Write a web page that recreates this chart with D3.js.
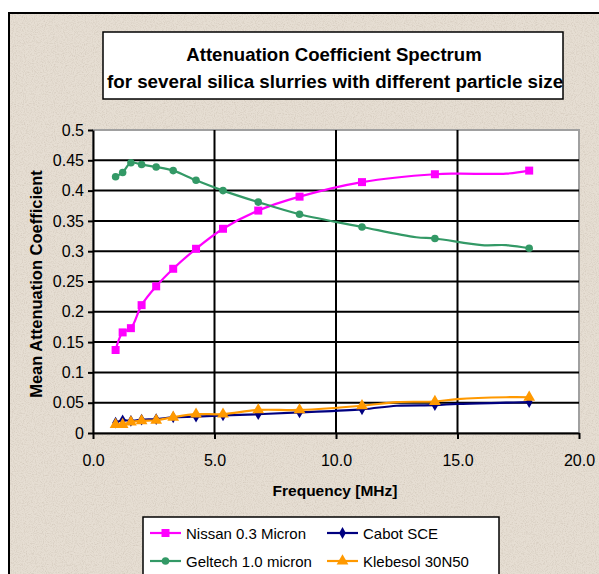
<!DOCTYPE html>
<html>
<head>
<meta charset="utf-8">
<script src="https://cdn.jsdelivr.net/npm/d3@7"></script>
<style>
  body { margin: 0; background: #fff; }
  svg { display: block; font-family: "Liberation Sans", Arial, sans-serif; }
</style>
</head>
<body>
<div id="chart-area"></div>
<script>
// frequencies (MHz) where the markers sit
var freqs = [0.93, 1.22, 1.56, 2.0, 2.6, 3.3, 4.24, 5.35, 6.8, 8.5, 11.07, 14.07, 17.95];

var nissan   = [0.137, 0.166, 0.173, 0.211, 0.242, 0.271, 0.304, 0.337, 0.367, 0.390, 0.414, 0.427, 0.433];
var geltech  = [0.423, 0.430, 0.446, 0.443, 0.439, 0.433, 0.417, 0.400, 0.381, 0.361, 0.340, 0.321, 0.305];
var cabot    = [0.017, 0.021, 0.020, 0.022, 0.023, 0.026, 0.027, 0.029, 0.031, 0.034, 0.039, 0.046, 0.051];
var klebesol = [0.014, 0.014, 0.018, 0.020, 0.021, 0.026, 0.031, 0.031, 0.038, 0.038, 0.045, 0.052, 0.059];

// extra line vertices without markers
var nissanExtraF = [15.0, 17.0],        nissanExtraV = [0.428, 0.428];
var geltechExtraF = [13.3, 16.0, 17.0], geltechExtraV = [0.323, 0.310, 0.310];
var cabotExtraF = [12.5, 15.0, 17.0],   cabotExtraV = [0.045, 0.048, 0.050];
var klebesolExtraF = [12.5, 15.0, 17.0], klebesolExtraV = [0.051, 0.056, 0.059];

var seriesNames = ["Nissan 0.3 Micron", "Cabot SCE", "Geltech 1.0 micron", "Klebesol 30N50"];

var xTicks = [0, 5, 10, 15, 20];
var yTicks = [0, 0.05, 0.1, 0.15, 0.2, 0.25, 0.3, 0.35, 0.4, 0.45, 0.5];

var W = 599, H = 574;
var plot = { left: 93, right: 579, top: 130, bottom: 433 };

var svg = d3.select("#chart-area").append("svg")
    .attr("width", W).attr("height", H);

// parchment texture
var defs = svg.append("defs");
var f = defs.append("filter").attr("id", "grain")
    .attr("x", 0).attr("y", 0).attr("width", "100%").attr("height", "100%");
f.append("feTurbulence").attr("type", "fractalNoise")
    .attr("baseFrequency", 0.9).attr("numOctaves", 2).attr("seed", 4);
f.append("feColorMatrix").attr("type", "matrix")
    .attr("values", "0 0 0 0 0.55  0 0 0 0 0.48  0 0 0 0 0.40  0 0 0 -2.2 1.25");
f.append("feComposite").attr("in2", "SourceGraphic").attr("operator", "in");

svg.append("rect")
    .attr("x", 9).attr("y", 13).attr("width", 640).attr("height", 640)
    .attr("fill", "#e6ded3");
svg.append("rect")
    .attr("x", 9).attr("y", 13).attr("width", 640).attr("height", 640)
    .attr("fill", "#e6ded3").attr("filter", "url(#grain)").attr("opacity", 0.5);
svg.append("rect")
    .attr("x", 9).attr("y", 13).attr("width", 640).attr("height", 640)
    .attr("fill", "none").attr("stroke", "#000").attr("stroke-width", 2);

// title box
svg.append("rect")
    .attr("x", 103).attr("y", 32).attr("width", 460).attr("height", 67)
    .attr("fill", "#fff").attr("stroke", "#000").attr("stroke-width", 1.5);
svg.append("text")
    .attr("x", 334).attr("y", 61)
    .attr("text-anchor", "middle").attr("font-size", "18.6px").attr("font-weight", "bold")
    .text("Attenuation Coefficient Spectrum");
svg.append("text")
    .attr("x", 335).attr("y", 88)
    .attr("text-anchor", "middle").attr("font-size", "18.8px").attr("font-weight", "bold")
    .text("for several silica slurries with different particle size");

// scales
var x = d3.scaleLinear().domain([0, 20]).range([plot.left, plot.right]);
var y = d3.scaleLinear().domain([0, 0.5]).range([plot.bottom, plot.top]);

// plot area
svg.append("rect")
    .attr("x", plot.left).attr("y", plot.top)
    .attr("width", plot.right - plot.left).attr("height", plot.bottom - plot.top)
    .attr("fill", "#fff").attr("stroke", "#a0a0a0").attr("stroke-width", 2);

// gridlines
svg.append("g").selectAll("line")
    .data(yTicks.filter(function (d) { return d > 0 && d < 0.5; }))
    .enter().append("line")
    .attr("x1", plot.left).attr("x2", plot.right)
    .attr("y1", function (d) { return y(d); }).attr("y2", function (d) { return y(d); })
    .attr("stroke", "#000").attr("stroke-width", 2);
svg.append("g").selectAll("line")
    .data(xTicks.filter(function (d) { return d > 0 && d < 20; }))
    .enter().append("line")
    .attr("y1", plot.top).attr("y2", plot.bottom)
    .attr("x1", function (d) { return x(d); }).attr("x2", function (d) { return x(d); })
    .attr("stroke", "#000").attr("stroke-width", 2);

// axes
var yAxis = svg.append("g")
    .attr("transform", "translate(" + plot.left + ",0)")
    .call(d3.axisLeft(y).tickValues(yTicks).tickSizeInner(5).tickSizeOuter(0).tickPadding(4)
        .tickFormat(function (d) { return String(+d.toFixed(2)); }));
yAxis.select(".domain").attr("stroke", "#000").attr("stroke-width", 2);
yAxis.selectAll(".tick line").attr("stroke-width", 2);
yAxis.selectAll("text").attr("font-size", "16px").attr("fill", "#000")
    .attr("font-family", "Liberation Sans, Arial, sans-serif");

var xAxis = svg.append("g")
    .attr("transform", "translate(0," + plot.bottom + ")")
    .call(d3.axisBottom(x).tickValues(xTicks).tickSizeInner(6).tickSizeOuter(0).tickPadding(16)
        .tickFormat(d3.format(".1f")));
xAxis.select(".domain").attr("stroke", "#000").attr("stroke-width", 2);
xAxis.selectAll(".tick line").attr("stroke-width", 2);
xAxis.selectAll("text").attr("font-size", "16px").attr("fill", "#000")
    .attr("font-family", "Liberation Sans, Arial, sans-serif");

// axis titles
svg.append("text")
    .attr("x", 335).attr("y", 496)
    .attr("text-anchor", "middle").attr("font-size", "15.5px").attr("font-weight", "bold")
    .text("Frequency [MHz]");
svg.append("text")
    .attr("transform", "translate(42,284) rotate(-90)")
    .attr("text-anchor", "middle").attr("font-size", "16.5px").attr("font-weight", "bold")
    .text("Mean Attenuation Coefficient");

// series
function build(vals, exF, exV) {
    var pts = freqs.map(function (fq, i) { return { f: fq, v: vals[i], m: true }; });
    exF.forEach(function (fq, i) { pts.push({ f: fq, v: exV[i], m: false }); });
    pts.sort(function (a, b) { return a.f - b.f; });
    return pts;
}

var series = [
    { name: seriesNames[0], color: "#ff00ff", sym: d3.symbolSquare, size: 64, pts: build(nissan, nissanExtraF, nissanExtraV) },
    { name: seriesNames[1], color: "#000080", sym: d3.symbolDiamond, size: 40, pts: build(cabot, cabotExtraF, cabotExtraV) },
    { name: seriesNames[2], color: "#339966", sym: d3.symbolCircle, size: 45, pts: build(geltech, geltechExtraF, geltechExtraV) },
    { name: seriesNames[3], color: "#ff9900", sym: d3.symbolTriangle, size: 60, pts: build(klebesol, klebesolExtraF, klebesolExtraV) }
];

var line = d3.line()
    .x(function (d) { return x(d.f); })
    .y(function (d) { return y(d.v); })
    .curve(d3.curveCatmullRom.alpha(0.5));

series.forEach(function (s) {
    svg.append("path")
        .attr("d", line(s.pts))
        .attr("fill", "none").attr("stroke", s.color).attr("stroke-width", 2.2);
    svg.append("g").selectAll("path")
        .data(s.pts.filter(function (d) { return d.m; }))
        .enter().append("path")
        .attr("d", d3.symbol().type(s.sym).size(s.size))
        .attr("transform", function (d) { return "translate(" + x(d.f) + "," + y(d.v) + ")"; })
        .attr("fill", s.color);
});

// legend
svg.append("rect")
    .attr("x", 143).attr("y", 517).attr("width", 356).attr("height", 80)
    .attr("fill", "#fff").attr("stroke", "#000").attr("stroke-width", 1.5);

var legendPos = [
    { lx: 150, ly: 533 }, { lx: 327, ly: 533 },
    { lx: 150, ly: 561 }, { lx: 327, ly: 561 }
];
series.forEach(function (s, i) {
    var p = legendPos[i];
    var g = svg.append("g");
    g.append("line")
        .attr("x1", p.lx).attr("x2", p.lx + 31).attr("y1", p.ly).attr("y2", p.ly)
        .attr("stroke", s.color).attr("stroke-width", 2.2);
    g.append("path")
        .attr("d", d3.symbol().type(s.sym).size(s.size))
        .attr("transform", "translate(" + (p.lx + 15.5) + "," + p.ly + ")")
        .attr("fill", s.color);
    g.append("text")
        .attr("x", p.lx + 36).attr("y", p.ly + 5.5)
        .attr("font-size", "15px")
        .text(s.name);
});
</script>
</body>
</html>
